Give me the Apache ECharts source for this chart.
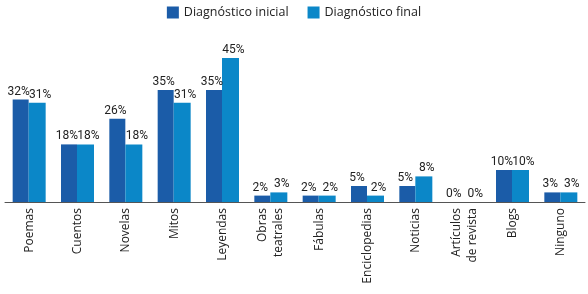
<!DOCTYPE html>
<html>
<head>
<meta charset="utf-8">
<script src="https://cdn.jsdelivr.net/npm/echarts@6/dist/echarts.min.js"></script>
<style>
	html, body { margin: 0; padding: 0; background: #fff; }
	#chart { width: 588px; height: 294px; }
</style>
</head>
<body>
<div id="chart"></div>
<script>
// categorías y valores (%)
var categorias = ['Poemas', 'Cuentos', 'Novelas', 'Mitos', 'Leyendas', 'Obras\nteatrales', 'Fábulas', 'Enciclopedias', 'Noticias', 'Artículos\nde revista', 'Blogs', 'Ninguno'];
var diagnosticoInicial = [32, 18, 26, 35, 35, 2, 2, 5, 5, 0, 10, 3];
var diagnosticoFinal = [31, 18, 18, 31, 45, 3, 2, 2, 8, 0, 10, 3];
var nombresSeries = ['Diagnóstico inicial', 'Diagnóstico final'];

var fuente = '"Open Sans", "Noto Sans", sans-serif';
var fuenteNum = 'Roboto, "Noto Sans", sans-serif';

var myChart = echarts.init(document.getElementById('chart'));

// etiqueta encima de cada barra
function etiqueta(desp) {
	return {
		show: true,
		position: 'top',
		distance: 2,
		offset: [desp, 0],
		formatter: '{c}%',
		color: '#222',
		fontSize: 12,
		fontFamily: fuenteNum
	};
}

var option = {
	animation: false,
	legend: {
		data: nombresSeries,
		top: 1,
		left: 'center',
		itemWidth: 12,
		itemHeight: 12,
		itemGap: 19,
		icon: 'rect',
		textStyle: { color: '#222', fontSize: 12.5, fontFamily: fuente }
	},
	grid: {
		left: 5,
		right: 3,
		top: 42,
		bottom: 92,
		containLabel: false
	},
	xAxis: {
		type: 'category',
		data: categorias,
		axisLine: { lineStyle: { color: '#555', width: 1 } },
		axisTick: { alignWithLabel: true, length: 5, lineStyle: { color: '#555' } },
		axisLabel: {
			rotate: 90,
			interval: 0,
			margin: 6,
			color: '#222',
			fontSize: 12,
			lineHeight: 16,
			fontFamily: fuente
		}
	},
	yAxis: {
		type: 'value',
		min: 0,
		max: 50,
		show: false,
		splitLine: { show: false }
	},
	series: [
		{
			name: nombresSeries[0],
			type: 'bar',
			data: diagnosticoInicial,
			barWidth: 16,
			barGap: '0%',
			itemStyle: { color: '#1b5ca8' },
			label: etiqueta(-2)
		},
		{
			name: nombresSeries[1],
			type: 'bar',
			data: diagnosticoFinal,
			barWidth: 17,
			itemStyle: { color: '#0b87c8' },
			label: etiqueta(3)
		}
	]
};
myChart.setOption(option);
</script>
</body>
</html>
